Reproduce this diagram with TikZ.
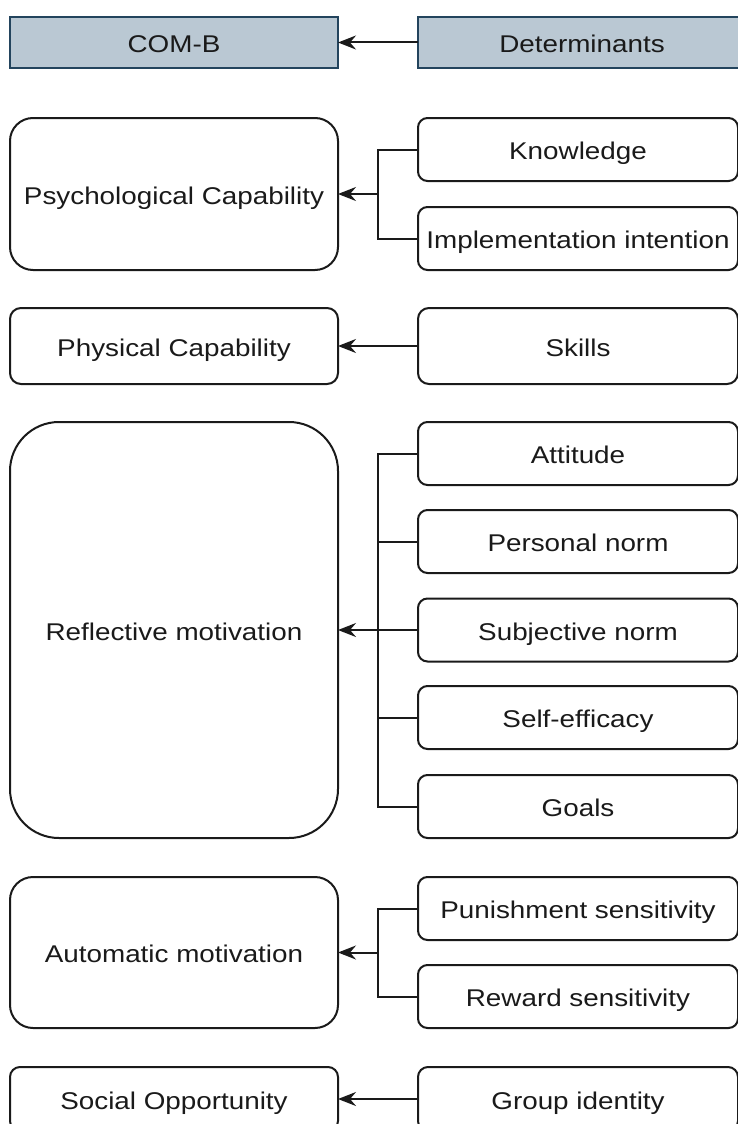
\documentclass[tikz,border=0pt]{standalone}
\usepackage{fontspec}
\setmainfont{Liberation Sans}
% the labels are set a little wide: Arial letters stretched sideways
\newfontfamily\boxfont[FakeStretch=1.15]{Liberation Sans}
\usetikzlibrary{arrows.meta}
\definecolor{hdrfill}{HTML}{BAC8D3}
\definecolor{hdrline}{HTML}{23445D}
\definecolor{ink}{HTML}{1A1A1A}

\begin{document}
\begin{tikzpicture}[x=1pt,y=-1pt,
  label font/.style={font=\boxfont\fontsize{24.2}{29}\selectfont},
  box/.style={draw=ink, line width=2pt, fill=white, anchor=north west,
    inner sep=0pt, outer sep=0pt, align=center, text=ink, label font,
    text height=22pt, text depth=1.2pt},
  hdr/.style={box, draw=hdrline, fill=hdrfill},
  link/.style={draw=ink, line width=2pt},
  tip/.style={link, -{Stealth[length=18pt,width=14pt,inset=6pt]}}]

\useasboundingbox (0,0) rectangle (738,1124);
\clip (0,0) rectangle (738,1124);

% header row
\node[hdr, minimum width=328pt, minimum height=51pt] (comb) at (10,17) {COM-B};
\node[hdr, minimum width=328pt, minimum height=51pt] (det) at (418,17) {Determinants};
\draw[tip] (det.west) -- (comb.east);

% psychological capability
\node[box, minimum width=328pt, minimum height=152pt, rounded corners=23pt] (psy) at (10,118) {Psychological Capability};
\node[box, minimum width=320pt, minimum height=63pt, rounded corners=9.5pt] (know) at (418,118) {Knowledge};
\node[box, minimum width=320pt, minimum height=63pt, rounded corners=9.5pt] (impl) at (418,207) {Implementation intention};
\coordinate (jpsy) at (378,194);
\draw[link] (know.west) -| (jpsy);
\draw[link] (impl.west) -| (jpsy);
\draw[tip] (jpsy) -- (psy.east);

% physical capability
\node[box, minimum width=328pt, minimum height=76pt, rounded corners=11pt] (phys) at (10,308) {Physical Capability};
\node[box, minimum width=320pt, minimum height=76pt, rounded corners=11pt] (skills) at (418,308) {Skills};
\draw[tip] (skills.west) -- (phys.east);

% reflective motivation
\node[box, minimum width=328pt, minimum height=416pt, rounded corners=49pt] (refl) at (10,422) {Reflective motivation};
\node[box, minimum width=320pt, minimum height=63pt, rounded corners=9.5pt] (att) at (418,422) {Attitude};
\node[box, minimum width=320pt, minimum height=63pt, rounded corners=9.5pt] (pers) at (418,510) {Personal norm};
\node[box, minimum width=320pt, minimum height=63pt, rounded corners=9.5pt] (subj) at (418,598.5) {Subjective norm};
\node[box, minimum width=320pt, minimum height=63pt, rounded corners=9.5pt] (selfeff) at (418,686) {Self-efficacy};
\node[box, minimum width=320pt, minimum height=63pt, rounded corners=9.5pt] (goals) at (418,775) {Goals};
\coordinate (jrefl) at (378,630);
\draw[link] (att.west) -| (jrefl);
\draw[link] (goals.west) -| (jrefl);
\draw[link] (pers.west) -- (pers.west -| jrefl);
\draw[link] (selfeff.west) -- (selfeff.west -| jrefl);
\draw[link] (subj.west) -- (jrefl);
\draw[tip] (jrefl) -- (refl.east);

% automatic motivation
\node[box, minimum width=328pt, minimum height=151pt, rounded corners=23pt] (auto) at (10,877) {Automatic motivation};
\node[box, minimum width=320pt, minimum height=63pt, rounded corners=9.5pt] (pun) at (418,877) {Punishment sensitivity};
\node[box, minimum width=320pt, minimum height=63pt, rounded corners=9.5pt] (rew) at (418,965) {Reward sensitivity};
\coordinate (jauto) at (378,952.5);
\draw[link] (pun.west) -| (jauto);
\draw[link] (rew.west) -| (jauto);
\draw[tip] (jauto) -- (auto.east);

% social opportunity
\node[box, minimum width=328pt, minimum height=64pt, rounded corners=10pt] (soc) at (10,1067) {Social Opportunity};
\node[box, minimum width=320pt, minimum height=64pt, rounded corners=10pt] (grp) at (418,1067) {Group identity};
\draw[tip] (grp.west) -- (soc.east);
\end{tikzpicture}
\end{document}
